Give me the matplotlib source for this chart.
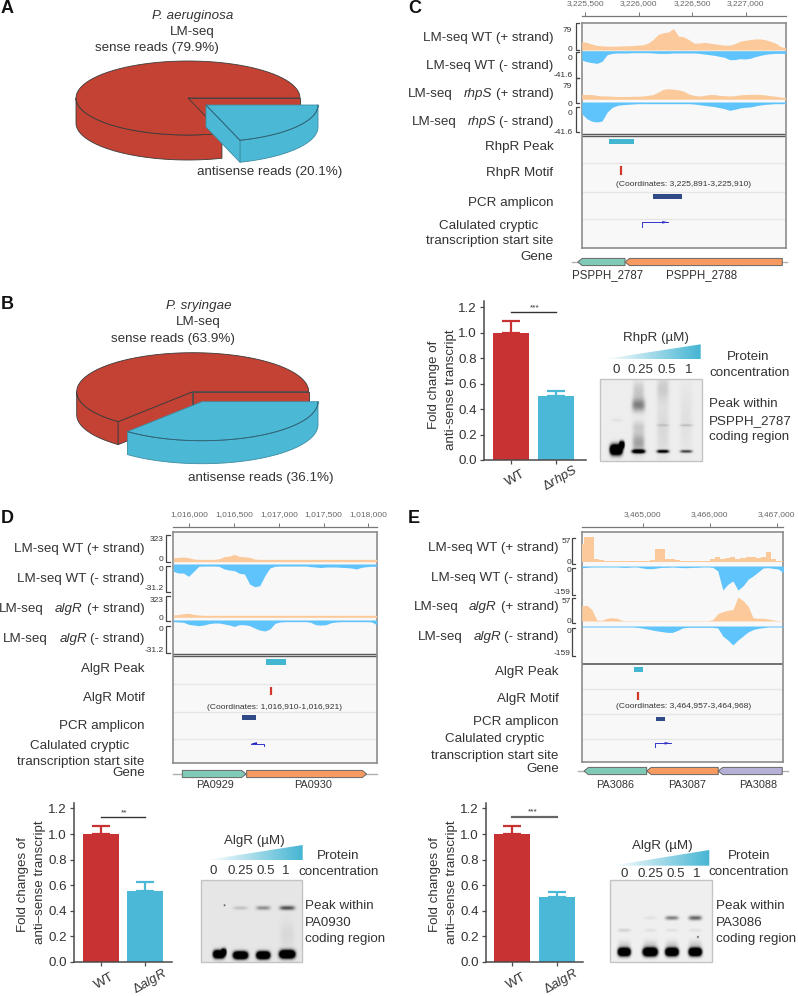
import numpy as np
import matplotlib
matplotlib.use('Agg')
import matplotlib.pyplot as plt
from matplotlib.patches import Polygon, Rectangle

plt.rcParams['font.family'] = ['Liberation Sans', 'DejaVu Sans']
plt.rcParams['mathtext.fontset'] = 'custom'
plt.rcParams['mathtext.rm'] = 'Liberation Sans'
plt.rcParams['mathtext.it'] = 'Liberation Sans:italic'

W, H = 798, 996
TXT = '#333333'
RED = '#C93232'
BLUE = '#4AB8D6'
ORANGE_COV = '#FBC99A'
BLUE_COV = '#5FC4FB'
TEAL_GENE = '#7FC9B6'
ORANGE_GENE = '#F69A60'
PURPLE_GENE = '#B5B0D6'

# pie shares
pie_a_antisense = 20.1
pie_b_antisense = 36.1

# bars: mean, top of error bar
bar_c_means = [1.0, 0.50]
bar_c_tops = [1.09, 0.54]
bar_d_means = [1.0, 0.555]
bar_d_tops = [1.06, 0.625]
bar_e_means = [1.0, 0.505]
bar_e_tops = [1.06, 0.545]
bar_ticks = [0.0, 0.2, 0.4, 0.6, 0.8, 1.0, 1.2]

c_wt_plus = [25, 22, 17, 13, 12, 11, 11, 11, 12, 12, 13, 14, 15, 20, 30, 45, 50, 52, 62, 40, 38,
             30, 20, 20, 22, 20, 18, 16, 14, 14, 18, 25, 28, 30, 32, 32, 30, 25, 20, 10, 6]
c_wt_minus = [14.6, 17.2, 18.7, 19.8, 16.6, 6.2, 4.2, 3.6, 3.6, 3.6, 3.1, 3.1, 3.1, 3.1, 3.6, 4.2, 4.2,
              4.2, 3.6, 3.6, 3.6, 3.6, 3.6, 4.2, 5.2, 6.2, 7.3, 8.8, 10.4, 14, 14, 12.5, 13, 12, 9.4,
              7.3, 5.7, 4.7, 4.2, 4.2, 4.2]
c_mut_plus = [18, 17, 17, 14, 12, 12, 11, 10, 10, 10, 11, 11, 12, 14, 17, 26, 36, 38, 36, 34, 29,
              19, 14, 12, 14, 17, 17, 14, 13, 12, 13, 16, 17, 18, 18, 17, 16, 13, 11, 8, 6]
c_mut_minus = [17.3, 24.8, 28.7, 29.7, 28.2, 14.9, 7.9, 5, 4, 3.5, 3, 2.5, 2.5, 2.5, 2.5, 2.5, 2.5, 2.5,
               2.5, 2.5, 2.5, 2.5, 3, 4, 5, 5.9, 6.9, 8.4, 9.9, 12.4, 10.9, 8.9, 7.9, 7.4, 5.9, 4.5,
               3.5, 3, 2.5, 2.5, 2.5]

d_wt_plus = [48, 52, 56, 48, 32, 28, 28, 28, 28, 36, 60, 68, 88, 64, 60, 52, 32, 28, 28, 28, 28,
             28, 28, 28, 28, 28, 28, 28, 28, 28, 28, 28, 28, 28, 28, 28, 28, 28, 28, 28, 28]
d_wt_minus = [8.3, 10.2, 10.2, 13.9, 8.3, 2.6, 2.3, 2.3, 2.3, 2.6, 5.6, 6.8, 7.5, 10.5, 11.3, 22.6, 25.6,
              24.4, 13.2, 4.5, 2.6, 2.3, 2.3, 2.3, 2.3, 2.3, 2.3, 3, 3.4, 4.1, 3.4, 3.4, 3.4, 3.8, 4.1,
              4.5, 5.6, 3.8, 3, 2.6, 2.6]
d_mut_plus = [35, 40, 55, 60, 45, 35, 30, 30, 30, 30, 30, 30, 30, 30, 30, 30, 30, 30, 30, 30, 30,
              30, 30, 30, 30, 30, 30, 30, 30, 30, 30, 30, 30, 30, 30, 30, 30, 30, 30, 30, 30]
d_mut_minus = [1.6, 1.9, 2.2, 4.1, 4.8, 5.4, 4.8, 3.5, 2.9, 2.9, 3.8, 4.8, 6.1, 4.5, 4.5, 5.4, 7.7, 9.6,
               10.5, 8.6, 3.2, 1.9, 1.6, 1.6, 1.6, 1.6, 1.6, 2.2, 4.5, 4.8, 4.5, 2.6, 1.9, 1.6, 1.6,
               1.6, 1.6, 1.6, 1.6, 1.9, 4.5]

e_wt_plus = [42, 57, 57, 6, 3.8, 3, 3, 3, 2.3, 2.3, 2.3, 2.3, 2.3, 2.3, 3.8, 29, 29, 7.7, 7, 3.8, 2.3,
             2.3, 2.3, 3, 2.3, 2.3, 7.7, 10.8, 6.2, 10, 10.8, 7.7, 9.2, 10.8, 10.8, 9.2, 11.6, 23, 6.2,
             2.3, 3]
e_wt_minus = [9.4, 7.5, 5.6, 5.6, 5.6, 5.6, 5.6, 5.6, 7.5, 7.5, 5.6, 5.6, 11, 15, 15, 11, 7.5, 7.5, 5.6,
              7.5, 9.4, 9.4, 7.5, 7.5, 5.6, 5.6, 7.5, 28, 135, 103, 84, 135, 112, 75, 56, 34, 11, 9.4,
              13, 17, 37]
e_mut_plus = [35, 37, 27, 2.3, 1.6, 6.2, 7.8, 6.2, 1.6, 0.8, 0.8, 0.8, 0.8, 0.8, 0.8, 0.8, 0.8, 0.8,
              0.8, 0.8, 0.8, 0.8, 0.8, 0.8, 0.8, 0.8, 3.1, 17, 22, 25, 27, 56, 48, 35, 7.8, 6.2, 6.2,
              4.7, 2.3, 0.8, 0.8]
e_mut_minus = [5.5, 5.5, 5.5, 5.5, 5.5, 5.5, 5.5, 5.5, 5.5, 5.5, 5.5, 7.3, 11, 16, 22, 27, 31, 35, 35,
               24, 11, 7.3, 7.3, 7.3, 7.3, 7.3, 7.3, 11, 55, 77, 104, 77, 55, 33, 20, 13, 9, 5.5, 5.5,
               5.5, 5.5]

# genomic features
c_ticks = [3225500, 3226000, 3226500, 3227000]
c_peak = (3225721, 3225958)
c_motif = 3225832
c_pcr = (3226135, 3226403)
c_tss = (3226027, 3226276)
c_genes = [(3225429, 3225871, -1, TEAL_GENE), (3225871, 3227341, -1, ORANGE_GENE)]

d_ticks = [1016000, 1016500, 1017000, 1017500, 1018000]
d_peak = (1016854, 1017080)
d_motif = 1016916
d_pcr = (1016589, 1016749)
d_tss = (1016834, 1016689)
d_genes = [(1015922, 1016634, 1, TEAL_GENE), (1016641, 1017982, 1, ORANGE_GENE)]

e_ticks = [3465000, 3466000, 3467000]
e_peak = (3464875, 3465004)
e_motif = 3464925
e_pcr = (3465199, 3465337)
e_tss = (3465184, 3465418)
e_genes = [(3464124, 3465060, -1, TEAL_GENE), (3465060, 3466128, -1, ORANGE_GENE),
           (3466128, 3467083, -1, PURPLE_GENE)]

# gel bands: x, y (px inside the gel), half width x, sigma y, darkness
gel_c_bands = [(16, 70, 6, 3.3, 2.5), (21.7, 65, 2.5, 2.2, 2), (16.7, 40.7, 5.5, 1, 0.05),
               (38.3, 71.7, 6.5, 1.3, 1.4), (38.3, 63, 6, 7, 0.3), (38.3, 25.7, 6.5, 4.5, 0.42),
               (38.3, 12, 5.5, 7, 0.15), (38.3, 47, 6, 4, 0.12),
               (62.7, 71.7, 6, 1.1, 1.1), (62.7, 50, 6, 20, 0.08), (62.7, 9, 6, 9, 0.12), (62.7, 45.7, 6, 0.8, 0.12),
               (86, 71.7, 6, 1, 0.7), (86, 40, 6, 24, 0.05), (86, 45.7, 6.5, 0.8, 0.15)]
gel_d_bands = [(17.7, 74, 5.5, 2.5, 2.5), (22.7, 71.7, 2.5, 2.2, 1.5), (39.3, 75, 7, 2.4, 2.5),
               (62, 75, 6.5, 2.4, 2.5), (86, 74, 7.5, 2.6, 2.5),
               (39.3, 27.7, 7, 1.2, 0.15), (62, 27.7, 7, 1.4, 0.35), (86, 27.7, 7.5, 1.5, 0.6),
               (86, 55, 7, 10, 0.05), (23.3, 25, 0.7, 0.5, 1)]
gel_e_bands = [(14, 71.7, 6, 2.6, 2.5), (40, 71.7, 7, 2.7, 2.5), (61.7, 71.7, 6.3, 2.6, 2.5), (85, 71.7, 6.2, 2.6, 2.5),
               (14, 64, 6.3, 3, 0.1), (40, 64, 7, 3, 0.12), (61.7, 64, 6.3, 3, 0.12), (85, 64, 6.3, 3, 0.12),
               (40, 37.7, 6.3, 1.2, 0.06), (61.7, 37.7, 6.5, 1.4, 0.45), (85, 37.7, 6.5, 1.6, 0.55),
               (14, 50, 6.3, 1.2, 0.12), (40, 50, 6.3, 1.2, 0.06), (61.7, 50, 6.3, 1.2, 0.06), (85, 50, 6.3, 1.2, 0.06),
               (87.7, 56.7, 0.7, 0.6, 1)]


fig = plt.figure(figsize=(W / 100, H / 100), dpi=100)


def px_axes(x0, y0, x1, y1):
    return fig.add_axes([x0 / W, 1 - y1 / H, (x1 - x0) / W, (y1 - y0) / H])


base = px_axes(0, 0, W, H)
base.set_axis_off()
# all the labels go on a see-through sheet above the other axes
sheet = px_axes(0, 0, W, H)
sheet.set_axis_off()
sheet.set_zorder(10)
sheet.set_xlim(0, W)
sheet.set_ylim(H, 0)


def T(x, y, s, ha='center', size=9.6, color=TXT, **kw):
    sheet.text(x, y, s, ha=ha, va='center', fontsize=size, color=color, **kw)


def arc(cx, cy, rx, ry, t0, t1, n=80):
    t = np.radians(np.linspace(t0, t1, n))
    return np.column_stack([cx + rx * np.cos(t), cy + ry * np.sin(t)])


def poly(pts, color, z, lw=0.6, edge='#3a3a3a'):
    base.add_patch(Polygon(pts, closed=True, facecolor=color, edgecolor=edge, lw=lw, zorder=z))


def draw_pie(share, cx, cy, rx, ry, depth, dx, dy, depth2):
    red = '#C44233'
    blue = '#4BB9D6'
    blue_edge = '#3F8CA3'
    a = share * 3.6
    apex = np.array([cx, cy])
    end = arc(cx, cy, rx, ry, a, a, 1)[0]
    right = np.array([cx + rx, cy])
    shift = np.array([0, depth])
    # red outer wall, visible part only
    wall = arc(cx, cy, rx, ry, a, 180)
    poly(np.vstack([wall, (wall + shift)[::-1]]), red, 2)
    # walls of the cut
    poly([apex, right, right + shift, apex + shift], red, 2)
    if a > 90:
        poly([apex, end, end + shift, apex + shift], red, 2)
    poly(np.vstack([apex, arc(cx, cy, rx, ry, a, 360)]), red, 3)

    bx, by = cx + dx, cy + dy
    bapex = np.array([bx, by])
    bend = arc(bx, by, rx, ry, a, a, 1)[0]
    shift2 = np.array([0, depth2])
    wall = arc(bx, by, rx, ry, 0, a)
    poly(np.vstack([wall, (wall + shift2)[::-1]]), blue, 4, edge=blue_edge)
    if a < 90:
        poly([bapex, bend, bend + shift2, bapex + shift2], blue, 4, edge=blue_edge)
    poly(np.vstack([bapex, wall]), blue, 5, edge=blue_edge)
    base.plot(wall[:, 0], wall[:, 1], color='#2f5f70', lw=0.6, zorder=6)
    if a < 90:
        base.plot([bx, bend[0]], [by, bend[1]], color='#2f5f70', lw=0.6, zorder=6)


def make_gel(x0, y0, w, h, bands, bg):
    xx, yy = np.meshgrid(np.arange(0, w, 0.5), np.arange(0, h, 0.5))
    img = np.full(xx.shape, bg)
    for bx, by, sx, sy, dark in bands:
        # flat-topped across the lane, soft along it
        img = img - dark * np.exp(-((xx - bx) / sx) ** 4 - ((yy - by) / sy) ** 2 / 2)
    base.imshow(np.clip(img, 0, 1), cmap='gray', vmin=0, vmax=1, extent=(x0, x0 + w, y0 + h, y0),
                aspect='auto', zorder=2, interpolation='bilinear')
    base.add_patch(Rectangle((x0, y0), w, h, fill=False, ec='#c4c4c4', lw=1, zorder=3))


def gradient_wedge(tip_x, x1, y_top, y_bot):
    grad = np.linspace(0, 1, 256).reshape(1, -1)
    cmap = matplotlib.colors.LinearSegmentedColormap.from_list('w', ['#ffffff', '#45B5D3'])
    im = base.imshow(grad, cmap=cmap, extent=(tip_x, x1, y_bot, y_top), aspect='auto', zorder=2)
    clip = Polygon([(tip_x, y_bot), (x1, y_top), (x1, y_bot)], closed=True, transform=base.transData)
    im.set_clip_path(clip)


def draw_bars(x0, x1, y_zero, unit, tick_x, bar_w, means, tops, sig_y, sig_col, sig_lw, mut, spine_top, lab_y):
    sp = tick_x[1] - tick_x[0]
    top = (y_zero - spine_top) / unit
    ax = px_axes(x0, spine_top, x1, y_zero)
    ax.patch.set_alpha(0)
    ax.set_xlim((x0 - tick_x[0]) / sp, (x1 - tick_x[0]) / sp)
    ax.set_ylim(0, top)
    ax.bar([0, 1], means, width=bar_w / sp, color=[RED, BLUE], zorder=2)
    for i, col in enumerate([RED, BLUE]):
        ax.errorbar(i, means[i], yerr=[[0], [tops[i] - means[i]]], color=col, elinewidth=1.6,
                    capsize=6.2, capthick=1.6, zorder=1)
    ax.plot([0, 1], [sig_y, sig_y], color=sig_col, lw=sig_lw)
    for s in ['top', 'right']:
        ax.spines[s].set_visible(False)
    for s in ['left', 'bottom']:
        ax.spines[s].set_color('#4a4a4a')
        ax.spines[s].set_linewidth(1.1)
    ax.set_yticks(bar_ticks)
    ax.set_yticklabels(['%.1f' % v for v in bar_ticks], fontsize=9.6, color=TXT)
    ax.set_xticks([0, 1])
    ax.set_xticklabels(['', ''])
    ax.tick_params(axis='both', length=3, width=0.9, color='#4a4a4a', pad=2)
    T(tick_x[0] + 4, lab_y, 'WT', rotation=30)
    T(tick_x[1] + 4.5, lab_y + 0.5, mut, rotation=30, size=9.4)
    return ax


def draw_track(x0, x1, y_top, y_bot, vals, xlim, vmax, color, step=None):
    ax = px_axes(x0, y_top, x1, y_bot)
    ax.set_axis_off()
    pos = np.linspace(xlim[0], xlim[1], len(vals))
    if color == BLUE_COV:
        ax.fill_between(pos, [-v for v in vals], 0, step=step, color=color, lw=0)
        ax.set_ylim(-vmax, 0)
    else:
        ax.fill_between(pos, vals, 0, step=step, color=color, lw=0)
        ax.set_ylim(0, vmax)
    ax.set_xlim(*xlim)


def bracket(x0, x1, y0, y1):
    base.plot([x1, x0, x0, x1], [y0, y0, y1, y1], color='#444444', lw=0.9, zorder=3)


def draw_browser(box, ruler_y, xlim, ticks, dividers, lines, peak, peak_y, motif, motif_y, pcr, pcr_y,
                 tss, tss_y, tss_tick, genes, gene_y, gene_span):
    x0, y0, x1, y1 = box
    ax = px_axes(x0, y0, x1, y1)
    ax.set_facecolor('#f8f8f8')
    ax.set_xlim(*xlim)
    ax.set_ylim(y1, y0)
    ax.set_xticks([])
    ax.set_yticks([])
    for s in ax.spines.values():
        s.set_color('#8c8c8c')
        s.set_linewidth(1.2)
    for y, lw in dividers:
        ax.axhline(y, color='#5a5a5a', lw=lw)
    for y in lines:
        ax.axhline(y, color='#e6e6e6', lw=1)
    ax.add_patch(Rectangle((peak[0], peak_y[0]), peak[1] - peak[0], peak_y[1] - peak_y[0], color='#43B6D2', lw=0))
    ax.vlines(motif, motif_y[0], motif_y[1], color='#D0392B', lw=1.6)
    ax.add_patch(Rectangle((pcr[0], pcr_y[0]), pcr[1] - pcr[0], pcr_y[1] - pcr_y[0], color='#2F4A86', lw=0))
    ax.plot([tss[0], tss[0], tss[1]], [tss_tick, tss_y, tss_y], color='#3333cc', lw=0.7)
    step = (xlim[1] - xlim[0]) * 0.03 * np.sign(tss[1] - tss[0])
    ax.fill([tss[1], tss[1] - step, tss[1] - step], [tss_y, tss_y - 1.3, tss_y + 1.3], color='#2222bb', lw=0)

    # gene row below the box
    ax.plot(gene_span, [gene_y, gene_y], color='#b0b0b0', lw=1, clip_on=False, zorder=1)
    bp_px = (xlim[1] - xlim[0]) / (x1 - x0)
    for start, end, strand, col in genes:
        hd = 4.5 * bp_px
        hh = 3.6
        if strand > 0:
            pts = [(start, gene_y - hh), (end - hd, gene_y - hh), (end, gene_y), (end - hd, gene_y + hh), (start, gene_y + hh)]
        else:
            pts = [(end, gene_y - hh), (start + hd, gene_y - hh), (start, gene_y), (start + hd, gene_y + hh), (end, gene_y + hh)]
        ax.add_patch(Polygon(pts, closed=True, fc=col, ec='#666666', lw=0.7, clip_on=False, zorder=2))

    rul = px_axes(x0, ruler_y, x1, ruler_y + 1)
    rul.patch.set_alpha(0)
    rul.set_xlim(*xlim)
    rul.set_yticks([])
    for s in ['left', 'right', 'bottom']:
        rul.spines[s].set_visible(False)
    rul.spines['top'].set_color('#777777')
    rul.spines['top'].set_linewidth(0.9)
    rul.xaxis.tick_top()
    rul.set_xticks(ticks)
    rul.set_xticklabels(['{:,}'.format(v) for v in ticks], fontsize=6, color='#666666')
    rul.tick_params(axis='x', length=3, width=0.7, color='#777777', pad=3)


# panel letters
for lx, ly, letter in [(1, 8, 'A'), (1, 304, 'B'), (408, 8, 'C'), (1, 518, 'D'), (408, 518, 'E')]:
    T(lx, ly, letter, ha='left', size=13, color='#111111', fontweight='bold')

# A
draw_pie(pie_a_antisense, 188, 98, 112, 37, 25, 18, 7, 22)
T(192.7, 16, 'P. aeruginosa', style='italic')
T(192, 32, 'LM-seq')
T(157.3, 48, 'sense reads (79.9%)')
T(269.3, 171.7, 'antisense reads (20.1%)')

# B
draw_pie(pie_b_antisense, 192.7, 391.7, 116, 39, 23, 9.3, 10, 23)
T(199, 306, 'P. sryingae', style='italic')
T(198, 322, 'LM-seq')
T(172.7, 339, 'sense reads (63.9%)')
T(260.8, 477.7, 'antisense reads (36.1%)')

# C browser
c_xlim = (3225466, 3227373)
draw_browser((581.7, 22.7, 785.7, 248.3), 15.7, c_xlim, c_ticks, [(134.4, 1), (136.3, 1)],
             [163.3, 191.7, 219.3], c_peak, (138.7, 144), c_motif, (166, 175), c_pcr, (194.3, 199),
             c_tss, 222.3, 227, c_genes, 262, (3225372, 3227385))
draw_track(581.7, 785.7, 22.7, 50, c_wt_plus, c_xlim, 79, ORANGE_COV)
draw_track(581.7, 785.7, 50.7, 77.3, c_wt_minus, c_xlim, 41.6, BLUE_COV)
draw_track(581.7, 785.7, 77.3, 99.3, c_mut_plus, c_xlim, 79, ORANGE_COV)
draw_track(581.7, 785.7, 102, 130, c_mut_minus, c_xlim, 41.6, BLUE_COV)
for ya, yb in [(22.7, 50), (52, 77.5), (78, 103), (107, 132)]:
    bracket(575.5, 579, ya, yb)
for ry, s in [(30, '79'), (49, '0'), (58.3, '0'), (75.3, '-41.6'), (86, '79'), (104.3, '0'), (113.7, '0'), (132.3, '-41.6')]:
    T(572.3, ry, s, ha='right', size=6)
T(553.3, 37.7, 'LM-seq WT (+ strand)', ha='right')
T(553.3, 65.7, 'LM-seq WT (- strand)', ha='right')
T(553.3, 93.7, '(+ strand)', ha='right')
T(491.7, 93.7, 'rhpS', ha='right', style='italic')
T(452.3, 93.7, 'LM-seq', ha='right')
T(553.3, 121.7, '(- strand)', ha='right')
T(496, 121.7, 'rhpS', ha='right', style='italic')
T(456.7, 121.7, 'LM-seq', ha='right')
T(553.3, 147.3, 'RhpR Peak', ha='right')
T(553.3, 173.3, 'RhpR Motif', ha='right')
T(553.3, 202.7, 'PCR amplicon', ha='right')
T(489, 225.7, 'Calulated cryptic')
T(553.3, 241.3, 'transcription start site', ha='right')
T(553.3, 257, 'Gene', ha='right')
T(683.3, 184.3, '(Coordinates: 3,225,891-3,225,910)', size=6.1)
T(607.3, 275, 'PSPPH_2787', size=8.3)
T(701.3, 275, 'PSPPH_2788', size=8.3)

# D browser
d_xlim = (1015821, 1018094)
draw_browser((173.3, 532.3, 376.7, 763.3), 526.7, d_xlim, d_ticks, [(654.3, 1), (656.2, 1)],
             [684, 711.7, 739.3], d_peak, (659, 664.7), d_motif, (686.7, 695), d_pcr, (715.3, 720.3),
             d_tss, 743.5, 746, d_genes, 774, (1015821, 1018094))
draw_track(173.3, 376.7, 535, 561.7, d_wt_plus, d_xlim, 323, ORANGE_COV)
draw_track(173.3, 376.7, 564, 591.7, d_wt_minus, d_xlim, 31.2, BLUE_COV)
draw_track(173.3, 376.7, 596, 617.3, d_mut_plus, d_xlim, 323, ORANGE_COV)
draw_track(173.3, 376.7, 620, 652.7, d_mut_minus, d_xlim, 31.2, BLUE_COV)
for ya, yb in [(535, 561.7), (566, 591.7), (596, 620.7), (626, 652.7)]:
    bracket(165.5, 170, ya, yb)
for ry, s in [(539, '323'), (559.3, '0'), (569, '0'), (588.3, '-31.2'), (600, '323'), (618.3, '0'), (629, '0'), (650.7, '-31.2')]:
    T(163.5, ry, s, ha='right', size=6)
T(144.7, 549, 'LM-seq WT (+ strand)', ha='right')
T(144.7, 579, 'LM-seq WT (- strand)', ha='right')
T(144.7, 609, '(+ strand)', ha='right')
T(82.7, 609, 'algR', ha='right', style='italic')
T(43.3, 609, 'LM-seq', ha='right')
T(144.7, 639, '(- strand)', ha='right')
T(87.3, 639, 'algR', ha='right', style='italic')
T(47.7, 639, 'LM-seq', ha='right')
T(144.7, 669.3, 'AlgR Peak', ha='right')
T(144.7, 697.7, 'AlgR Motif', ha='right')
T(144.7, 725.7, 'PCR amplicon', ha='right')
T(80, 745.7, 'Calulated cryptic')
T(144.7, 761.7, 'transcription start site', ha='right')
T(144.7, 772.7, 'Gene', ha='right')
T(275, 707.3, '(Coordinates: 1,016,910-1,016,921)', size=6.1)
T(215, 784.7, 'PA0929', size=7.8)
T(312.7, 784.7, 'PA0930', size=7.8)

# E browser
e_xlim = (3464090, 3467099)
draw_browser((581.7, 532.3, 783.3, 762.3), 526.7, e_xlim, e_ticks, [(664, 1.2)],
             [689, 714, 739], e_peak, (666.7, 672.3), e_motif, (692, 700), e_pcr, (716.7, 721),
             e_tss, 743.3, 747, e_genes, 771, (3464037, 3467169))
draw_track(581.7, 783.3, 537.3, 562, e_wt_plus, e_xlim, 57, ORANGE_COV, step='mid')
draw_track(581.7, 783.3, 566, 594.3, e_wt_minus, e_xlim, 159, BLUE_COV)
draw_track(581.7, 783.3, 596.7, 621, e_mut_plus, e_xlim, 57, ORANGE_COV)
draw_track(581.7, 783.3, 626, 655, e_mut_minus, e_xlim, 159, BLUE_COV)
for ya, yb in [(538.3, 564), (568, 595), (598.3, 623.3), (628.3, 656)]:
    bracket(571.5, 575, ya, yb)
for ry, s in [(541.7, '57'), (562.3, '0'), (570.7, '0'), (592.7, '-159'), (601.7, '57'), (621.7, '0'), (631, '0'), (653.7, '-159')]:
    T(571, ry, s, ha='right', size=6)
T(558.7, 547.7, 'LM-seq WT (+ strand)', ha='right')
T(558.7, 577.7, 'LM-seq WT (- strand)', ha='right')
T(558.7, 607.3, '(+ strand)', ha='right')
T(496.7, 607.3, 'algR', ha='right', style='italic')
T(458.3, 607.3, 'LM-seq', ha='right')
T(558.7, 637.3, '(- strand)', ha='right')
T(501, 637.3, 'algR', ha='right', style='italic')
T(462.7, 637.3, 'LM-seq', ha='right')
T(558.7, 672.3, 'AlgR Peak', ha='right')
T(558.7, 699.3, 'AlgR Motif', ha='right')
T(558.7, 722.3, 'PCR amplicon', ha='right')
T(494.7, 739.3, 'Calulated cryptic')
T(558.7, 755.7, 'transcription start site', ha='right')
T(558.7, 768.7, 'Gene', ha='right')
T(683.3, 706.7, '(Coordinates: 3,464,957-3,464,968)', size=6.1)
T(615, 784.7, 'PA3086', size=7.8)
T(687.3, 784.7, 'PA3087', size=7.8)
T(757.7, 784.7, 'PA3088', size=7.8)

# bar charts
draw_bars(484, 586, 460, 127.3, (511, 555.7), 36, bar_c_means, bar_c_tops, 1.165, '#333333', 1,
          'Δ$\\mathit{rhpS}$', 300.7, 477.7)
T(434.3, 384.7, 'Fold change of', rotation=90)
T(451, 389.5, 'anti-sense transcript', rotation=90)
T(534.3, 308, '***', size=6)

draw_bars(74, 171.7, 961.7, 127.7, (100.7, 145.3), 36, bar_d_means, bar_d_tops, 1.13, '#333333', 1,
          'Δ$\\mathit{algR}$', 802.7, 981)
T(23.3, 884, 'Fold changes of', rotation=90)
T(40, 881.7, 'anti–sense transcript', rotation=90)
T(124, 812.5, '**', size=6)

draw_bars(486, 582.7, 961.7, 127.7, (512.3, 556.7), 36, bar_e_means, bar_e_tops, 1.135, '#666666', 1.6,
          'Δ$\\mathit{algR}$', 802.7, 981)
T(435, 884, 'Fold changes of', rotation=90)
T(451.7, 881.7, 'anti–sense transcript', rotation=90)
T(532.3, 812, '***', size=6)

# gels and titration labels
make_gel(600, 379.3, 101.7, 81.4, gel_c_bands, 0.93)
gradient_wedge(605, 700.7, 344.3, 359)
T(656, 338, 'RhpR (µM)')
for gx, s in zip([616, 641, 666.7, 688.3], ['0', '0.25', '0.5', '1']):
    T(gx, 370, s)
T(748, 356.7, 'Protein')
T(750, 372.7, 'concentration')
for gy, s in zip([404, 420.7, 437], ['Peak within', 'PSPPH_2787', 'coding region']):
    T(709, gy, s, ha='left')

make_gel(200.7, 880, 101, 81.7, gel_d_bands, 0.9)
gradient_wedge(206.7, 302.7, 845, 860)
T(254, 841, 'AlgR (µM)')
for gx, s in zip([213, 240.7, 265.7, 286], ['0', '0.25', '0.5', '1']):
    T(gx, 870.7, s)
T(338, 855.7, 'Protein')
T(339, 871.7, 'concentration')
for gy, s in zip([906, 922.7, 938.7], ['Peak within', 'PA0930', 'coding region']):
    T(305, gy, s, ha='left')

make_gel(610, 880, 101.7, 81.7, gel_e_bands, 0.94)
gradient_wedge(611.7, 709.3, 850, 865.7)
T(662, 846, 'AlgR (µM)')
for gx, s in zip([624, 650.7, 676, 697], ['0', '0.25', '0.5', '1']):
    T(gx, 874, s)
T(749, 855.7, 'Protein')
T(749, 871.7, 'concentration')
for gy, s in zip([906, 922.7, 938.7], ['Peak within', 'PA3086', 'coding region']):
    T(715.7, gy, s, ha='left')

base.set_xlim(0, W)
base.set_ylim(H, 0)

fig.savefig('out.png', dpi=100)
